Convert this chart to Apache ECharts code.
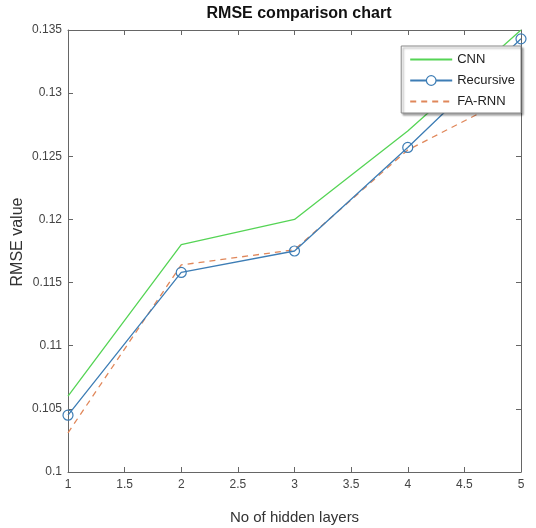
<!DOCTYPE html>
<html>
<head>
<meta charset="utf-8">
<script src="https://cdn.jsdelivr.net/npm/echarts@6/dist/echarts.min.js"></script>
<style>html,body{margin:0;padding:0;background:#fff;}#c{width:536px;height:528px;}</style>
</head>
<body>
<div id="c"></div>
<script>
const layers = [1, 2, 3, 4, 5];
const cnn = [0.106, 0.118, 0.120, 0.127, 0.135];
const recursive = [0.1045, 0.1158, 0.1175, 0.1257, 0.1343];
const faRnn = [0.1031, 0.1164, 0.1176, 0.1255, 0.1301];
const seriesNames = ['CNN', 'Recursive', 'FA-RNN'];
const title = 'RMSE comparison chart';
const xName = 'No of hidden layers';
const yName = 'RMSE value';

const pairs = arr => layers.map((x, i) => [x, arr[i]]);
const fmt = v => String(parseFloat(v.toFixed(4)));
const axisColor = '#666';
const font = 'Liberation Sans, Arial, sans-serif';
const green = '#55d455', blue = '#3d7db5', orange = '#e0875a';

const chart = echarts.init(document.getElementById('c'));
const baseX = {
  type: 'value', min: 1, max: 5, interval: 0.5,
  axisLine: {show: true, lineStyle: {color: axisColor, width: 1}},
  axisTick: {show: true, inside: true, length: 5, lineStyle: {color: axisColor}},
  splitLine: {show: false}
};
const baseY = {
  type: 'value', min: 0.1, max: 0.135, interval: 0.005,
  axisLine: {show: true, lineStyle: {color: axisColor, width: 1}},
  axisTick: {show: true, inside: true, length: 5, lineStyle: {color: axisColor}},
  splitLine: {show: false}
};
chart.setOption({
  animation: false,
  backgroundColor: '#fff',
  title: {
    text: title, left: 294, top: 1, textAlign: 'center',
    textStyle: {fontFamily: font, fontSize: 16, fontWeight: 'bold', color: '#111'}
  },
  grid: {left: 68, right: 15, top: 30, bottom: 56, outerBoundsMode: 'none', containLabel: false},
  legend: {
    data: [
      {name: seriesNames[0], itemStyle: {color: 'rgba(0,0,0,0)', borderWidth: 0}},
      {name: seriesNames[1], itemStyle: {color: '#fff', borderColor: blue, borderWidth: 1.2}},
      {name: seriesNames[2], itemStyle: {color: 'rgba(0,0,0,0)', borderWidth: 0}}
    ],
    orient: 'vertical', right: 15, top: 46,
    backgroundColor: '#fff', borderColor: '#888', borderWidth: 1,
    shadowColor: 'rgba(0,0,0,0.35)', shadowBlur: 2, shadowOffsetX: 2, shadowOffsetY: 2,
    padding: [7, 6, 5, 8], itemGap: 8, itemWidth: 42, itemHeight: 12,
    textStyle: {fontFamily: font, fontSize: 13, color: '#222'}
  },
  xAxis: [
    Object.assign({}, baseX, {
      position: 'bottom', name: xName, nameLocation: 'middle', nameGap: 38,
      nameTextStyle: {fontFamily: font, fontSize: 15, color: '#333'},
      axisLabel: {fontFamily: font, fontSize: 12, color: '#444', margin: 7, formatter: fmt}
    }),
    Object.assign({}, baseX, {position: 'top', axisLabel: {show: false}})
  ],
  yAxis: [
    Object.assign({}, baseY, {
      position: 'left', name: yName, nameLocation: 'middle', nameGap: 42, nameMoveOverlap: false,
      nameTextStyle: {fontFamily: font, fontSize: 16, color: '#333', padding: [0, 0, 0, 18]},
      axisLabel: {fontFamily: font, fontSize: 12, color: '#444', margin: 6, formatter: fmt}
    }),
    Object.assign({}, baseY, {position: 'right', axisLabel: {show: false}})
  ],
  series: [
    {name: seriesNames[0], type: 'line', data: pairs(cnn), symbol: 'none',
     lineStyle: {color: green, width: 1.3}, itemStyle: {color: 'rgba(0,0,0,0)'}},
    {name: seriesNames[1], type: 'line', data: pairs(recursive), symbol: 'circle', symbolSize: 10,
     showAllSymbol: true,
     lineStyle: {color: blue, width: 1.3},
     itemStyle: {color: 'rgba(0,0,0,0)', borderColor: blue, borderWidth: 1.2}},
    {name: seriesNames[2], type: 'line', data: pairs(faRnn), symbol: 'none',
     lineStyle: {color: orange, width: 1.3, type: [6, 5]}, itemStyle: {color: 'rgba(0,0,0,0)'}, z: 1}
  ]
});
</script>
</body>
</html>
